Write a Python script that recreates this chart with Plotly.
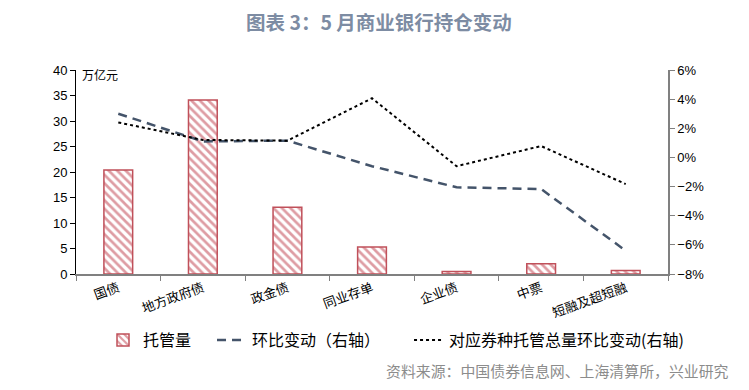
import plotly.graph_objects as go

categories = ["国债", "地方政府债", "政金债", "同业存单", "企业债", "中票", "短融及超短融"]
holdings = [20.4, 34.1, 13.1, 5.3, 0.5, 2.0, 0.7]          # 万亿元
mom_change = [3.0, 1.1, 1.15, -0.6, -2.05, -2.17, -6.4]     # % 右轴
total_mom_change = [2.4, 1.2, 1.15, 4.06, -0.6, 0.78, -1.83]  # % 右轴

CJK = "Noto Sans CJK SC"
# page body has an 8px default margin, so the figure is 8px smaller on each side
W, H = 741, 382
L, R, T, B = 68, 660, 62, 266   # plot area in figure pixels
PW, PH = R - L, B - T

fig = go.Figure()

fig.add_trace(go.Bar(
    x=categories, y=holdings, name="托管量\u3000", width=0.34,
    marker=dict(color="white", line=dict(color="#c0505a", width=1.5),
                pattern=dict(shape="\\", fgcolor="#bd3a48", bgcolor="white", size=6, solidity=0.45)),
))
fig.add_trace(go.Scatter(
    x=categories, y=mom_change, name="环比变动（右轴）\u3000\u3000", yaxis="y2", mode="lines",
    line=dict(color="#44546a", width=2.5, dash="9px,6px"),
))
fig.add_trace(go.Scatter(
    x=categories, y=total_mom_change, name="对应券种托管总量环比变动(右轴)", yaxis="y2", mode="lines",
    line=dict(color="black", width=2, dash="dot"),
))

fig.update_layout(
    width=W, height=H,
    margin=dict(l=L, r=W - R, t=T, b=H - B, autoexpand=False),
    paper_bgcolor="white", plot_bgcolor="white",
    font=dict(family="Liberation Sans, " + CJK, size=13, color="black"),
    showlegend=True,
    legend=dict(orientation="h", xref="container", yref="container",
                x=95 / W, xanchor="left", y=1 - 332 / H, yanchor="middle",
                font=dict(family=CJK, size=16), bgcolor="rgba(0,0,0,0)"),
    xaxis=dict(type="category", showline=True, linecolor="#808080", linewidth=1.5,
               ticks="outside", tickson="boundaries", ticklen=5, tickcolor="#808080",
               tickangle=-20, tickfont=dict(family=CJK, size=13), showgrid=False,
               automargin=False),
    yaxis=dict(range=[0, 40], dtick=5, showline=True, linecolor="black", linewidth=1,
               ticks="outside", ticklen=5, tickcolor="black", showgrid=False, zeroline=False,
               tickfont=dict(size=13), automargin=False),
    yaxis2=dict(range=[-8, 6], dtick=2, overlaying="y", side="right", ticksuffix="%",
                showline=True, linecolor="#808080", linewidth=1.5, ticks="outside", ticklen=5,
                tickcolor="#808080", showgrid=False, zeroline=False, tickfont=dict(size=13),
                automargin=False),
    annotations=[
        dict(text="<b>图表 3：5 月商业银行持仓变动</b>", xref="paper", yref="paper",
             x=(W / 2 - L) / PW, y=(B - 14) / PH, xanchor="center", yanchor="middle",
             showarrow=False, font=dict(family=CJK, size=19.5, color="#7d8ca3")),
        dict(text="万亿元", xref="paper", yref="paper", x=4 / PW, y=(B - 66) / PH, xanchor="left",
             yanchor="middle", showarrow=False, font=dict(family=CJK, size=12)),
        dict(text="资料来源：中国债券信息网、上海清算所，兴业研究", xref="paper", yref="paper",
             x=(723 - L) / PW, y=(B - 362) / PH, xanchor="right", yanchor="middle",
             showarrow=False, font=dict(family=CJK, size=14.9, color="#8c8c8c")),
    ],
)

fig.write_html("out.html")
